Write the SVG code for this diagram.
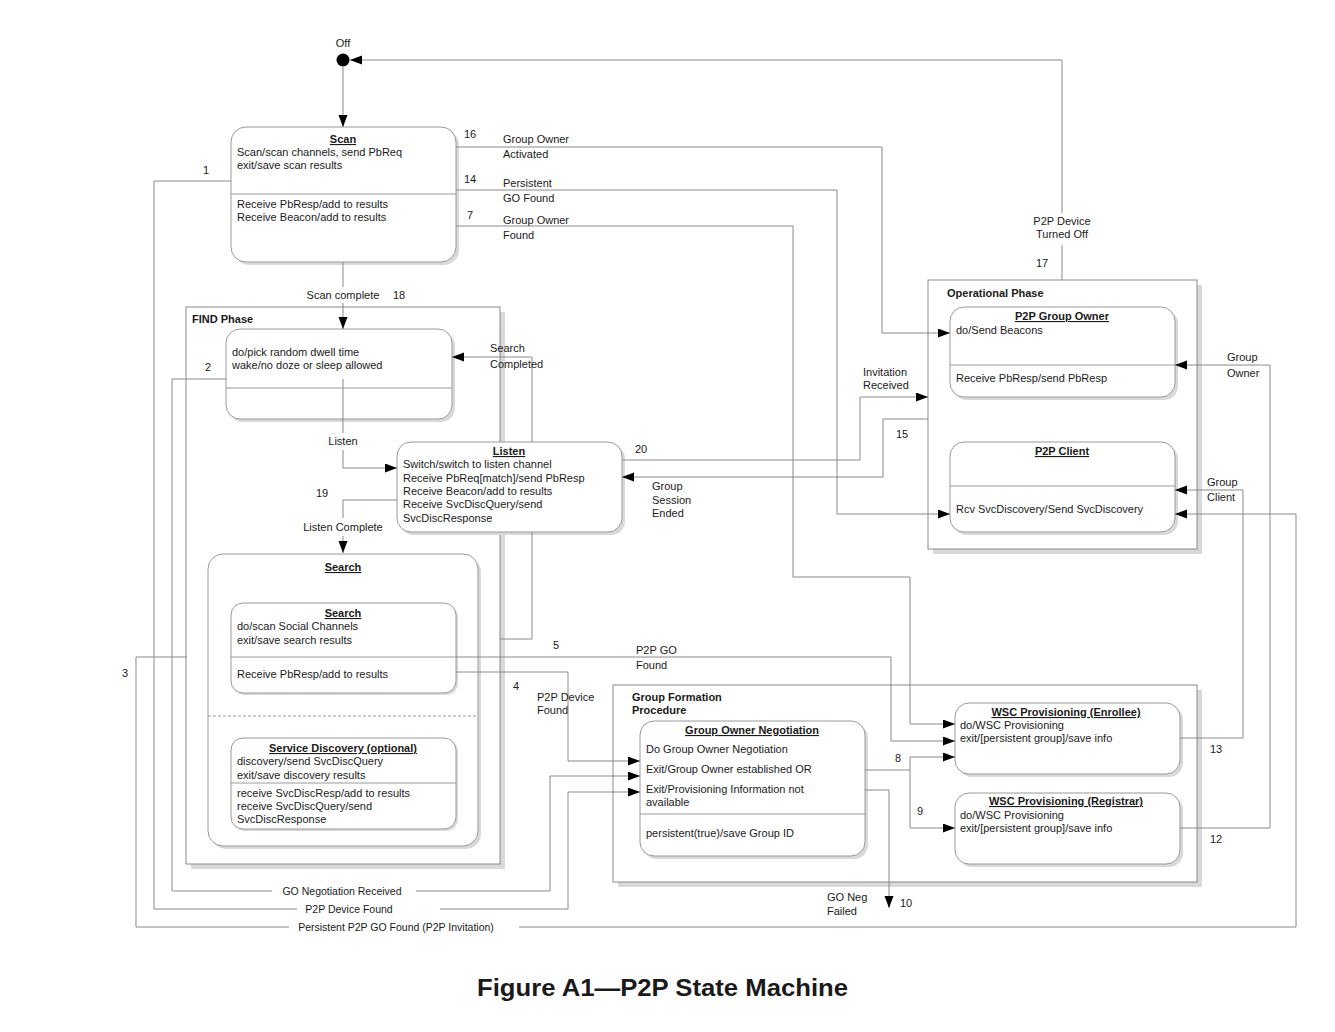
<svg xmlns="http://www.w3.org/2000/svg" width="1335" height="1032" viewBox="0 0 1335 1032">
<style>
text{font-family:"Liberation Sans",Arial,sans-serif;font-size:11px;fill:#1a1a1a}
.t{font-weight:bold;text-decoration:underline;text-anchor:middle}
.b{font-weight:bold}
.m{text-anchor:middle}
.s{font-size:10.5px}
.box{fill:#fff;stroke:#9a9a9a;stroke-width:1}
.sh{fill:#d9d9d9}
.grp{fill:#fff;stroke:#8a8a8a;stroke-width:1}
.div{stroke:#9a9a9a;stroke-width:1}
.c{fill:none;stroke:#8a8a8a;stroke-width:1}
.a{marker-end:url(#ah)}
</style>
<defs>
<marker id="ah" markerUnits="userSpaceOnUse" markerWidth="12" markerHeight="10" refX="12" refY="4.5" orient="auto">
<path d="M0,0 L12,4.5 L0,9 z" fill="#000"/>
</marker>
</defs>
<rect width="1335" height="1032" fill="#fff"/>

<g id="find-phase">
<rect class="sh" x="191" y="312" width="314" height="557"/>
<rect class="grp" x="186" y="307" width="314" height="557"/>
<text class="b" x="192" y="323">FIND Phase</text>
</g>
<g id="operational-phase">
<rect class="sh" x="933" y="285" width="269" height="269"/>
<rect class="grp" x="928" y="280" width="269" height="269"/>
<text class="b" x="947" y="297">Operational Phase</text>
</g>
<g id="group-formation">
<rect class="sh" x="618" y="690" width="584" height="197"/>
<rect class="grp" x="613" y="685" width="584" height="197"/>
<text class="b" x="632" y="701">Group Formation</text>
<text class="b" x="632" y="714">Procedure</text>
</g>

<g id="off">
<circle cx="343" cy="60" r="6.5" fill="#000"/>
<text class="m" x="343" y="47">Off</text>
</g>

<g id="scan">
<rect class="sh" x="234" y="130" width="225" height="135" rx="15"/>
<rect class="box" x="231" y="127" width="225" height="135" rx="15"/>
<line class="div" x1="231" y1="194" x2="456" y2="194"/>
<text class="t" x="343" y="143">Scan</text>
<text x="237" y="156">Scan/scan channels, send PbReq</text>
<text x="237" y="169">exit/save scan results</text>
<text x="237" y="208">Receive PbResp/add to results</text>
<text x="237" y="221">Receive Beacon/add to results</text>
</g>

<g id="dwell">
<rect class="sh" x="229" y="332" width="226" height="90" rx="14"/>
<rect class="box" x="226" y="329" width="226" height="90" rx="14"/>
<line class="div" x1="226" y1="388" x2="452" y2="388"/>
<text x="232" y="356">do/pick random dwell time</text>
<text x="232" y="369">wake/no doze or sleep allowed</text>
</g>

<g id="listen">
<rect class="sh" x="400" y="445" width="225" height="90" rx="14"/>
<rect class="box" x="397" y="442" width="225" height="90" rx="14"/>
<text class="t" x="509" y="455">Listen</text>
<text x="403" y="468">Switch/switch to listen channel</text>
<text x="403" y="482">Receive PbReq[match]/send PbResp</text>
<text x="403" y="495">Receive Beacon/add to results</text>
<text x="403" y="508">Receive SvcDiscQuery/send</text>
<text x="403" y="522">SvcDiscResponse</text>
</g>

<g id="search">
<rect class="sh" x="211" y="557" width="270" height="292" rx="15"/>
<rect class="box" x="208" y="554" width="270" height="292" rx="15"/>
<text class="t" x="343" y="571">Search</text>
<line x1="208" y1="716" x2="478" y2="716" stroke="#9a9a9a" stroke-dasharray="3,2"/>
</g>

<g id="search-inner">
<rect class="sh" x="233" y="605" width="225" height="90" rx="12"/>
<rect class="box" x="231" y="603" width="225" height="90" rx="12"/>
<line class="div" x1="231" y1="657" x2="456" y2="657"/>
<text class="t" x="343" y="617">Search</text>
<text x="237" y="630">do/scan Social Channels</text>
<text x="237" y="644">exit/save search results</text>
<text x="237" y="678">Receive PbResp/add to results</text>
</g>

<g id="service-discovery">
<rect class="sh" x="233" y="740" width="225" height="91" rx="12"/>
<rect class="box" x="231" y="738" width="225" height="91" rx="12"/>
<line class="div" x1="231" y1="783" x2="456" y2="783"/>
<text class="t" x="343" y="752">Service Discovery (optional)</text>
<text x="237" y="765">discovery/send SvcDiscQuery</text>
<text x="237" y="779">exit/save discovery results</text>
<text x="237" y="797">receive SvcDiscResp/add to results</text>
<text x="237" y="810">receive SvcDiscQuery/send</text>
<text x="237" y="823">SvcDiscResponse</text>
</g>

<g id="p2p-group-owner">
<rect class="sh" x="953" y="310" width="225" height="90" rx="14"/>
<rect class="box" x="950" y="307" width="225" height="90" rx="14"/>
<line class="div" x1="950" y1="365" x2="1175" y2="365"/>
<text class="t" x="1062" y="320">P2P Group Owner</text>
<text x="956" y="334">do/Send Beacons</text>
<text x="956" y="382">Receive PbResp/send PbResp</text>
</g>

<g id="p2p-client">
<rect class="sh" x="953" y="445" width="225" height="90" rx="14"/>
<rect class="box" x="950" y="442" width="225" height="90" rx="14"/>
<line class="div" x1="950" y1="486" x2="1175" y2="486"/>
<text class="t" x="1062" y="455">P2P Client</text>
<text x="956" y="513">Rcv SvcDiscovery/Send SvcDiscovery</text>
</g>

<g id="go-negotiation">
<rect class="sh" x="643" y="724" width="225" height="135" rx="14"/>
<rect class="box" x="640" y="721" width="225" height="135" rx="14"/>
<line class="div" x1="640" y1="814" x2="865" y2="814"/>
<text class="t" x="752" y="734">Group Owner Negotiation</text>
<text x="646" y="753">Do Group Owner Negotiation</text>
<text x="646" y="773">Exit/Group Owner established OR</text>
<text x="646" y="793">Exit/Provisioning Information not</text>
<text x="646" y="806">available</text>
<text x="646" y="837">persistent(true)/save Group ID</text>
</g>

<g id="wsc-enrollee">
<rect class="sh" x="958" y="706" width="225" height="71" rx="14"/>
<rect class="box" x="955" y="703" width="225" height="71" rx="14"/>
<text class="t" x="1066" y="716">WSC Provisioning (Enrollee)</text>
<text x="960" y="729">do/WSC Provisioning</text>
<text x="960" y="742">exit/[persistent group]/save info</text>
</g>

<g id="wsc-registrar">
<rect class="sh" x="958" y="796" width="225" height="71" rx="14"/>
<rect class="box" x="955" y="793" width="225" height="71" rx="14"/>
<text class="t" x="1066" y="805">WSC Provisioning (Registrar)</text>
<text x="960" y="819">do/WSC Provisioning</text>
<text x="960" y="832">exit/[persistent group]/save info</text>
</g>

<g id="connectors">
<path class="c a" d="M343,67 V127"/>
<path class="c" d="M1062,280 V245"/>
<path class="c a" d="M1062,213 V60 H350"/>
<path class="c a" d="M456,147 H882 V333 H950"/>
<path class="c a" d="M456,190 H837 V514 H950"/>
<path class="c a" d="M456,226 H793 V577 H910 V724 H955"/>
<path class="c" d="M231,181 H154 V909 H297"/>
<path class="c a" d="M440,909 H568 V792 H640"/>
<path class="c" d="M226,379 H172 V891 H272"/>
<path class="c a" d="M416,891 H550 V776 H640"/>
<path class="c" d="M187,657 H136 V927 H289"/>
<path class="c a" d="M519,927 H1296 V514 H1175"/>
<path class="c" d="M343,262 V287"/>
<path class="c a" d="M343,303 V329"/>
<path class="c" d="M343,379 V433"/>
<path class="c a" d="M343,450 V468 H397"/>
<path class="c" d="M397,500 H343 V518"/>
<path class="c a" d="M343,536 V553"/>
<path class="c" d="M500,639 H532 V532"/>
<path class="c a" d="M532,442 V357 H452"/>
<path class="c a" d="M456,657 H891 V741 H955"/>
<path class="c a" d="M456,672 H568 V761 H640"/>
<path class="c a" d="M865,770 H910 V757 H955"/>
<path class="c a" d="M910,770 V828 H955"/>
<path class="c a" d="M865,790 H889 V908"/>
<path class="c a" d="M1180,738 H1243 V490 H1175"/>
<path class="c a" d="M1180,828 H1270 V365 H1175"/>
<path class="c a" d="M622,460 H860 V397 H928"/>
<path class="c a" d="M928,419 H883 V477 H622"/>

<text x="464" y="138">16</text>
<text x="503" y="143">Group Owner</text>
<text x="503" y="158">Activated</text>
<text x="464" y="183">14</text>
<text x="503" y="187">Persistent</text>
<text x="503" y="202">GO Found</text>
<text x="467" y="219">7</text>
<text x="503" y="224">Group Owner</text>
<text x="503" y="239">Found</text>
<text x="203" y="174">1</text>
<text class="m" x="1062" y="225">P2P Device</text>
<text class="m" x="1062" y="238">Turned Off</text>
<text x="1036" y="267">17</text>
<text class="m" x="343" y="299">Scan complete</text>
<text x="393" y="299">18</text>
<text x="205" y="371">2</text>
<text x="490" y="352">Search</text>
<text x="490" y="368">Completed</text>
<text x="863" y="376">Invitation</text>
<text x="863" y="389">Received</text>
<text class="m" x="343" y="445">Listen</text>
<text x="896" y="438">15</text>
<text x="635" y="453">20</text>
<text x="652" y="490">Group</text>
<text x="652" y="504">Session</text>
<text x="652" y="517">Ended</text>
<text x="316" y="497">19</text>
<text class="m" x="343" y="531">Listen Complete</text>
<text x="553" y="649">5</text>
<text x="636" y="654">P2P GO</text>
<text x="636" y="669">Found</text>
<text x="122" y="677">3</text>
<text x="513" y="690">4</text>
<text x="537" y="701">P2P Device</text>
<text x="537" y="714">Found</text>
<text x="1210" y="753">13</text>
<text x="895" y="762">8</text>
<text x="917" y="815">9</text>
<text x="1210" y="843">12</text>
<text x="1227" y="361">Group</text>
<text x="1227" y="377">Owner</text>
<text x="1207" y="486">Group</text>
<text x="1207" y="501">Client</text>
<text class="m s" x="342" y="895">GO Negotiation Received</text>
<text class="m s" x="349" y="913">P2P Device Found</text>
<text class="m s" x="396" y="931">Persistent P2P GO Found (P2P Invitation)</text>
<text x="827" y="901">GO Neg</text>
<text x="827" y="915">Failed</text>
<text x="900" y="907">10</text>
</g>

<text x="477" y="996" textLength="371" lengthAdjust="spacingAndGlyphs" style="font-size:23px;font-weight:bold">Figure A1—P2P State Machine</text>
</svg>
